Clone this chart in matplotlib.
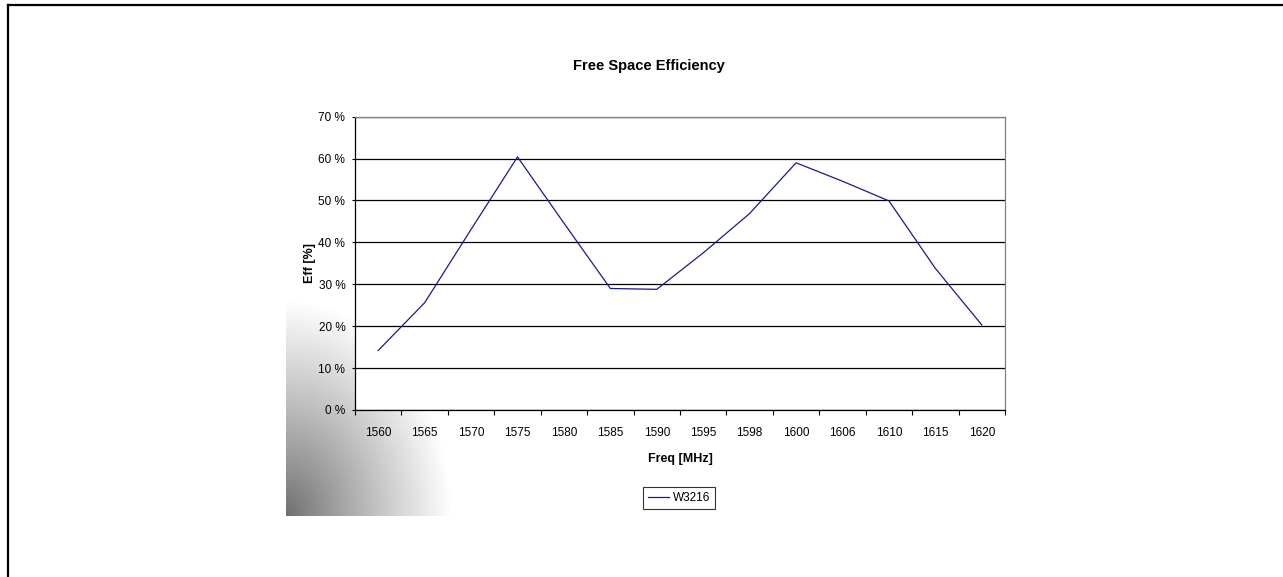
import numpy as np
import matplotlib
matplotlib.use("Agg")
import matplotlib.pyplot as plt
from matplotlib.lines import Line2D
from matplotlib.ticker import FuncFormatter, FixedLocator, NullFormatter

plt.rcParams['font.family'] = ['Liberation Sans', 'DejaVu Sans']

freqs = ["1560", "1565", "1570", "1575", "1580", "1585", "1590", "1595",
         "1598", "1600", "1606", "1610", "1615", "1620"]
eff_w3216 = [14.2, 25.6, 43.1, 60.4, 44.6, 29.0, 28.8, 37.5,
             46.9, 59.0, 54.6, 49.9, 33.8, 20.3]
y_ticks = [0, 10, 20, 30, 40, 50, 60, 70]

W, H = 1283, 577
fig = plt.figure(figsize=(W / 100, H / 100), dpi=100)
fig.patch.set_facecolor("white")

def fx(px):
    return px / W

def fy(py):
    return 1 - py / H

# gradient in lower-left corner
gx0, gx1, gy0, gy1 = 286, 480, 300, 516
gax = fig.add_axes([fx(gx0), fy(gy1), fx(gx1 - gx0), (gy1 - gy0) / H])
nx, ny = gx1 - gx0, gy1 - gy0
dx = np.arange(nx)[None, :]
dy = (ny - 1 - np.arange(ny))[:, None]
r = np.sqrt((dx / 165.0) ** 2 + (dy / 215.0) ** 2)
g = 0.43 + 0.57 * np.clip(r, 0, 1) ** 0.9
img = np.dstack([g, g, g])
gax.imshow(img, aspect="auto", interpolation="bilinear", origin="upper")
gax.set_axis_off()

# main axes
left, right, top, bottom = 355, 1005, 116.7, 410
ax = fig.add_axes([fx(left), fy(bottom), fx(right - left), (bottom - top) / H])
ax.set_facecolor("white")

x = np.arange(len(freqs))
ax.plot(x, eff_w3216, color="#1a1a8c", lw=0.9, label="W3216", zorder=3)

ax.set_xlim(-0.5, len(freqs) - 0.5)
ax.set_ylim(0, 70)
ax.set_yticks(y_ticks)
ax.yaxis.set_major_formatter(FuncFormatter(lambda v, p: f"{v:.0f} %"))
ax.grid(axis="y", color="black", lw=0.9)
ax.set_axisbelow(True)

ax.xaxis.set_major_locator(FixedLocator(np.arange(-0.5, len(freqs), 1.0)))
ax.xaxis.set_major_formatter(NullFormatter())
ax.xaxis.set_minor_locator(FixedLocator(x))
ax.set_xticks(x, labels=freqs, minor=True)
ax.tick_params(axis="x", which="major", length=3.5, width=0.8, direction="out", color="black")
ax.tick_params(axis="x", which="minor", length=0, pad=12, labelsize=8.5)
ax.tick_params(axis="y", length=2.5, width=0.8, direction="out", pad=4.5, labelsize=8.5)

for s in ["top", "right"]:
    ax.spines[s].set_color("#808080")
    ax.spines[s].set_linewidth(0.9)
for s in ["left", "bottom"]:
    ax.spines[s].set_color("black")
    ax.spines[s].set_linewidth(0.9)

ax.set_xlabel("Freq [MHz]", fontsize=9, fontweight="bold", labelpad=10)
ax.set_ylabel("Eff [%]", fontsize=9, fontweight="bold", labelpad=1.5)

fig.text(fx(649), fy(66), "Free Space Efficiency", ha="center", va="center",
         fontsize=10.5, fontweight="bold")

leg = ax.legend(loc="center", bbox_to_anchor=(fx(679), fy(498)),
                bbox_transform=fig.transFigure, fontsize=8.5, frameon=True,
                fancybox=False, edgecolor="black", handlelength=1.8,
                handletextpad=0.3, borderpad=0.45, borderaxespad=0)
leg.get_frame().set_linewidth(0.8)

# outer border lines (top and left)
fig.add_artist(Line2D([fx(7.5), 1], [fy(4.5), fy(4.5)], color="black", lw=1.6,
                      transform=fig.transFigure))
fig.add_artist(Line2D([fx(7.5), fx(7.5)], [fy(4.5), 0], color="black", lw=1.6,
                      transform=fig.transFigure))

fig.savefig("out.png", dpi=100, facecolor="white")
